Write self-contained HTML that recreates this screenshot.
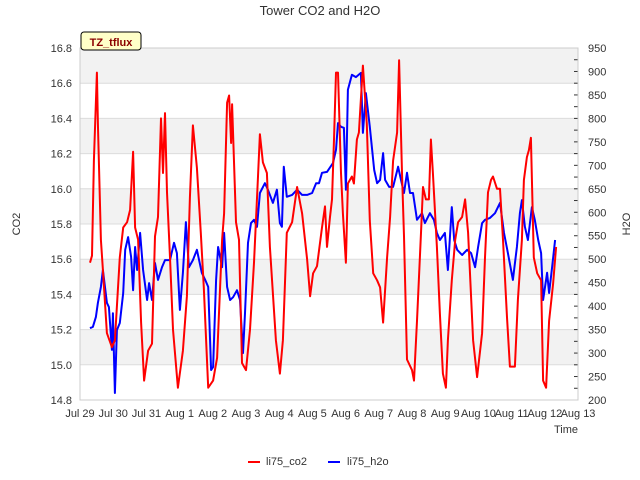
<!DOCTYPE html>
<html><head><meta charset="utf-8"><style>
body{margin:0;background:#fff}
svg{display:block;font-family:"Liberation Sans","DejaVu Sans",sans-serif}
</style></head><body>
<svg id="chart" width="640" height="480" viewBox="0 0 640 480" xmlns="http://www.w3.org/2000/svg">
<text x="320" y="15" text-anchor="middle" font-size="13" fill="#333">Tower CO2 and H2O</text>
<g id="bands"></g>
<g id="axes"></g>
<g id="series"></g>
<rect x="81" y="32" width="60" height="18" rx="3" fill="#ffffc8" stroke="#000" stroke-width="1"/>
<text x="111" y="46" text-anchor="middle" font-size="11" font-weight="bold" fill="#8b0000">TZ_tflux</text>
<text x="20" y="224" text-anchor="middle" font-size="11" fill="#333" transform="rotate(-90 20 224)">CO2</text>
<text x="630" y="224" text-anchor="middle" font-size="11" fill="#333" transform="rotate(-90 630 224)">H2O</text>
<text x="566" y="433" text-anchor="middle" font-size="11" fill="#333">Time</text>
<g>
<line x1="248" y1="462" x2="260" y2="462" stroke="#f00" stroke-width="2"/>
<text x="266" y="465" font-size="11" fill="#333">li75_co2</text>
<line x1="328" y1="462" x2="340" y2="462" stroke="#00f" stroke-width="2"/>
<text x="347" y="465" font-size="11" fill="#333">li75_h2o</text>
</g>
</svg>
<script>
const xTickLabels=["Jul 29","Jul 30","Jul 31","Aug 1","Aug 2","Aug 3","Aug 4","Aug 5","Aug 6","Aug 7","Aug 8","Aug 9","Aug 10","Aug 11","Aug 12","Aug 13"];
const co2Ticks=[14.8,15.0,15.2,15.4,15.6,15.8,16.0,16.2,16.4,16.6,16.8];
const h2oTicks=[200,250,300,350,400,450,500,550,600,650,700,750,800,850,900,950];
const co2Days=[.30,.36,.42,.51,.54,.63,.69,.81,.96,1.05,1.20,1.30,1.42,1.51,1.60,1.66,1.75,1.84,1.93,2.05,2.17,2.26,2.35,2.44,2.50,2.56,2.62,2.71,2.80,2.95,3.10,3.22,3.31,3.40,3.52,3.64,3.73,3.86,4.01,4.13,4.28,4.34,4.43,4.49,4.55,4.58,4.70,4.79,4.88,5.00,5.12,5.24,5.36,5.42,5.51,5.63,5.72,5.90,6.02,6.11,6.23,6.39,6.54,6.69,6.84,6.93,7.02,7.14,7.29,7.38,7.44,7.53,7.59,7.65,7.71,7.77,7.86,7.92,8.01,8.07,8.19,8.25,8.34,8.40,8.52,8.64,8.73,8.83,8.95,9.04,9.13,9.25,9.34,9.43,9.55,9.61,9.70,9.76,9.85,10.00,10.06,10.15,10.27,10.33,10.42,10.51,10.57,10.63,10.75,10.84,10.93,11.02,11.08,11.20,11.30,11.39,11.51,11.60,11.69,11.84,11.96,12.11,12.20,12.29,12.38,12.44,12.56,12.65,12.74,12.86,12.95,13.10,13.19,13.31,13.37,13.46,13.52,13.58,13.67,13.77,13.89,13.95,14.04,14.13,14.25,14.34];
const co2Values=[15.58,15.62,16.16,16.66,16.37,15.71,15.54,15.18,15.10,15.14,15.61,15.78,15.81,15.88,16.21,15.78,15.71,15.24,14.91,15.08,15.12,15.73,15.84,16.40,16.09,16.43,15.98,15.61,15.20,14.87,15.08,15.39,15.95,16.36,16.12,15.75,15.44,14.87,14.91,15.04,15.71,15.86,16.49,16.53,16.26,16.48,15.81,15.71,15.01,14.97,15.20,15.58,16.07,16.31,16.15,16.09,15.67,15.14,14.95,15.14,15.75,15.81,16.01,15.86,15.60,15.39,15.52,15.56,15.78,15.90,15.67,15.84,15.94,16.28,16.66,16.66,16.09,15.86,15.58,16.03,16.07,16.03,16.28,16.32,16.70,16.37,15.82,15.52,15.48,15.44,15.24,15.61,15.84,16.16,16.32,16.73,16.09,15.73,15.03,14.97,14.91,15.25,15.75,16.01,15.94,15.94,16.28,16.09,15.67,15.29,14.95,14.87,15.14,15.48,15.71,15.81,15.84,15.94,15.75,15.14,14.93,15.18,15.61,15.98,16.05,16.07,16.00,16.00,15.71,15.27,14.99,14.99,15.37,15.71,16.05,16.18,16.22,16.29,15.61,15.52,15.48,14.91,14.87,15.25,15.46,15.67];
const h2oDays=[.30,.39,.48,.54,.63,.69,.81,.87,.96,.99,1.05,1.11,1.20,1.30,1.36,1.45,1.54,1.60,1.66,1.72,1.81,1.90,2.02,2.08,2.17,2.26,2.35,2.47,2.56,2.71,2.83,2.92,3.01,3.10,3.19,3.28,3.40,3.52,3.67,3.77,3.86,3.95,4.01,4.10,4.16,4.28,4.34,4.43,4.52,4.61,4.73,4.82,4.91,4.97,5.06,5.15,5.24,5.33,5.42,5.57,5.66,5.81,5.93,6.02,6.08,6.14,6.23,6.39,6.54,6.69,6.84,6.99,7.11,7.20,7.29,7.44,7.62,7.71,7.77,7.86,7.95,8.01,8.07,8.19,8.31,8.46,8.52,8.61,8.73,8.86,8.95,9.04,9.13,9.19,9.31,9.43,9.58,9.67,9.76,9.85,9.94,10.03,10.15,10.30,10.39,10.54,10.66,10.75,10.84,10.99,11.08,11.20,11.27,11.36,11.51,11.66,11.78,11.90,11.99,12.11,12.20,12.35,12.50,12.65,12.77,12.89,13.04,13.16,13.25,13.31,13.40,13.49,13.61,13.70,13.80,13.89,13.95,14.07,14.13,14.22,14.31];
const h2oValues=[353,356,377,407,441,477,407,398,307,385,215,349,364,428,520,547,505,434,526,477,556,477,413,449,413,492,456,483,498,498,535,513,392,471,579,483,498,520,471,456,441,264,270,456,526,483,556,441,413,419,434,413,300,385,535,577,584,569,641,662,648,620,648,577,569,697,633,637,648,637,637,641,662,662,684,686,705,733,790,782,780,648,861,893,888,897,769,854,782,690,662,669,726,669,654,654,697,669,641,684,641,641,584,598,577,598,584,556,541,556,477,611,541,520,509,520,513,483,526,577,584,588,598,620,556,513,456,526,598,626,569,541,611,584,541,513,413,471,428,483,541];

const NS="http://www.w3.org/2000/svg";
const L=80,R=578,T=48,B=400;
const xS=d=>L+d*(R-L)/15;
const yC=v=>B-(v-14.8)*(B-T)/2.0;
const yH=v=>B-(v-200)*(B-T)/750;
function mk(tag,attrs,parent){const e=document.createElementNS(NS,tag);for(const k in attrs)e.setAttribute(k,attrs[k]);parent.appendChild(e);return e;}
const bands=document.getElementById('bands'),axes=document.getElementById('axes'),series=document.getElementById('series');
mk('rect',{x:L,y:T,width:R-L,height:B-T,fill:'#fff'},bands);
for(let i=0;i<co2Ticks.length-1;i++){
  if(i%2===1){const r=mk('rect',{x:L,y:yC(co2Ticks[i+1]),width:R-L,height:yC(co2Ticks[i])-yC(co2Ticks[i+1]),fill:'#f2f2f2'},bands);
  
  }
}
co2Ticks.forEach(v=>{
  const g=mk('line',{x1:L,x2:R,y1:yC(v),y2:yC(v),stroke:'#dcdcdc','stroke-width':1},bands);
  
  
  const t=mk('text',{x:L-8,y:yC(v)+4,'text-anchor':'end','font-size':11,fill:'#333'},axes);
  
  
  t.textContent=v.toFixed(1);
});
for(let v=200;v<=950;v+=25){
  const tk=mk('line',{x1:R-4,x2:R,y1:yH(v),y2:yH(v),stroke:'#333','stroke-width':1},axes);
  
  
}
h2oTicks.forEach(v=>{
  const t=mk('text',{x:R+10,y:yH(v)+4,'font-size':11,fill:'#333'},axes);
  
  
  t.textContent=v;
});
xTickLabels.forEach((s,i)=>{
  const t=mk('text',{x:xS(i),y:B+17,'text-anchor':'middle','font-size':11,fill:'#333'},axes);
  
  
  t.textContent=s;
});
const fr=mk('rect',{x:L,y:T,width:R-L,height:B-T,fill:'none',stroke:'#ccc','stroke-width':1},axes);


const co2Line=mk('polyline',{points:co2Days.map((d,i)=>xS(d).toFixed(1)+','+yC(co2Values[i]).toFixed(1)).join(' '),fill:'none',stroke:'#f00','stroke-width':2,'stroke-linejoin':'round'},series);


const h2oLine=mk('polyline',{points:h2oDays.map((d,i)=>xS(d).toFixed(1)+','+yH(h2oValues[i]).toFixed(1)).join(' '),fill:'none',stroke:'#00f','stroke-width':2,'stroke-linejoin':'round'},series);


series.appendChild(co2Line);
</script>
</body></html>
